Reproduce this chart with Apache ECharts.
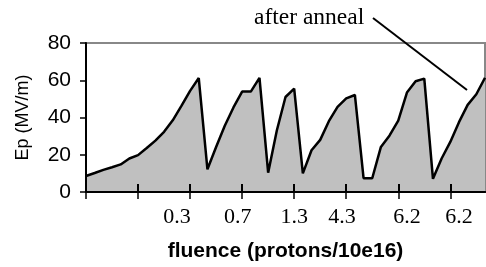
<!DOCTYPE html>
<html>
<head>
<meta charset="utf-8">
<script src="https://cdn.jsdelivr.net/npm/echarts@6/dist/echarts.min.js"></script>
<style>
  html, body { margin: 0; padding: 0; background: #fff; }
  #chart { width: 486px; height: 267px; }
</style>
</head>
<body>
<div id="chart"></div>
<script>
// field values per step
var epValues = [8.6, 10.2, 11.9, 13.3, 14.8, 18.0, 19.8, 23.6, 27.6, 32.3, 38.5, 46.2, 54.3, 61.2,
  12.2, 24.2, 35.6, 45.4, 53.9, 53.9, 61.3,
  10.4, 33, 51, 55.5,
  10, 22.4, 28, 38, 45.7, 50.3, 52.1,
  7.4, 7.4, 24.2, 30.4, 38.3, 53.4, 59.5, 60.9,
  7.1, 18, 26.9, 37.5, 46.8, 52.5, 61.3];
var steps = epValues.map(function (v, i) { return String(i); });
// fluence labels and where they sit along the steps
var fluenceLabels = ['0.3', '0.7', '1.3', '4.3', '6.2', '6.2'];
var fluenceAt = [10.5, 17.5, 24, 29.5, 37, 43];
var yTicks = [0, 20, 40, 60, 80];

var chart = echarts.init(document.getElementById('chart'));

function tickEvery6(idx) { return idx % 6 === 0; }

chart.setOption({
  animation: false,
  grid: {
    left: 86, right: 1, top: 43, bottom: 73,
    show: true, borderColor: '#888', borderWidth: 2, backgroundColor: 'transparent'
  },
  xAxis: [
    {
      type: 'category', data: steps, boundaryGap: false, position: 'bottom',
      axisLine: { lineStyle: { color: '#000', width: 2 } },
      axisTick: { interval: tickEvery6, length: 7, lineStyle: { color: '#000', width: 1.5 } },
      axisLabel: { show: false },
      splitLine: { show: false }
    },
    {
      // second copy only to draw the inner half of the crossing ticks above the fill
      type: 'category', data: steps, boundaryGap: false, position: 'bottom', z: 10,
      axisLine: { show: true, lineStyle: { color: '#000', width: 2 } },
      axisTick: { show: true, interval: tickEvery6, inside: true, length: 8, lineStyle: { color: '#000', width: 2 } },
      axisLabel: { show: false },
      splitLine: { show: false }
    },
    {
      type: 'value', min: 0, max: steps.length - 1, interval: 0.5, position: 'bottom',
      axisLine: { show: false }, axisTick: { show: false }, splitLine: { show: false },
      axisLabel: {
        margin: 14, fontFamily: 'Liberation Serif', fontSize: 22, color: '#000',
        showMinLabel: false, showMaxLabel: false,
        formatter: function (v) {
          var k = fluenceAt.indexOf(v);
          return k >= 0 ? fluenceLabels[k] : '';
        }
      },
      name: 'fluence (protons/10e16)', nameLocation: 'middle', nameGap: 49,
      nameTextStyle: { fontFamily: 'Liberation Sans', fontWeight: 'bold', fontSize: 21, color: '#000' }
    }
  ],
  yAxis: {
    type: 'value', min: yTicks[0], max: yTicks[yTicks.length - 1], interval: 20, z: 10,
    axisLine: { show: true, lineStyle: { color: '#000', width: 2 } },
    axisTick: { show: true, length: 6, lineStyle: { color: '#000', width: 1.5 } },
    axisLabel: { margin: 15, fontFamily: 'Liberation Sans', fontSize: 21, color: '#000' },
    splitLine: { show: false },
    name: 'Ep (MV/m)', nameLocation: 'middle', nameRotate: 90, nameGap: 54,
    nameTextStyle: { fontFamily: 'Liberation Sans', fontSize: 18, color: '#000' }
  },
  series: [{
    type: 'line', xAxisIndex: 0, data: epValues,
    symbol: 'none',
    lineStyle: { color: '#000', width: 2.5 },
    areaStyle: { color: '#c0c0c0', opacity: 1 }
  }],
  graphic: [
    { type: 'text', left: 254, top: 6,
      style: { text: 'after anneal', font: '23.5px "Liberation Serif"', fill: '#000' } },
    { type: 'line', shape: { x1: 373, y1: 18, x2: 467, y2: 90 },
      style: { stroke: '#000', lineWidth: 2 } }
  ]
});
</script>
</body>
</html>
